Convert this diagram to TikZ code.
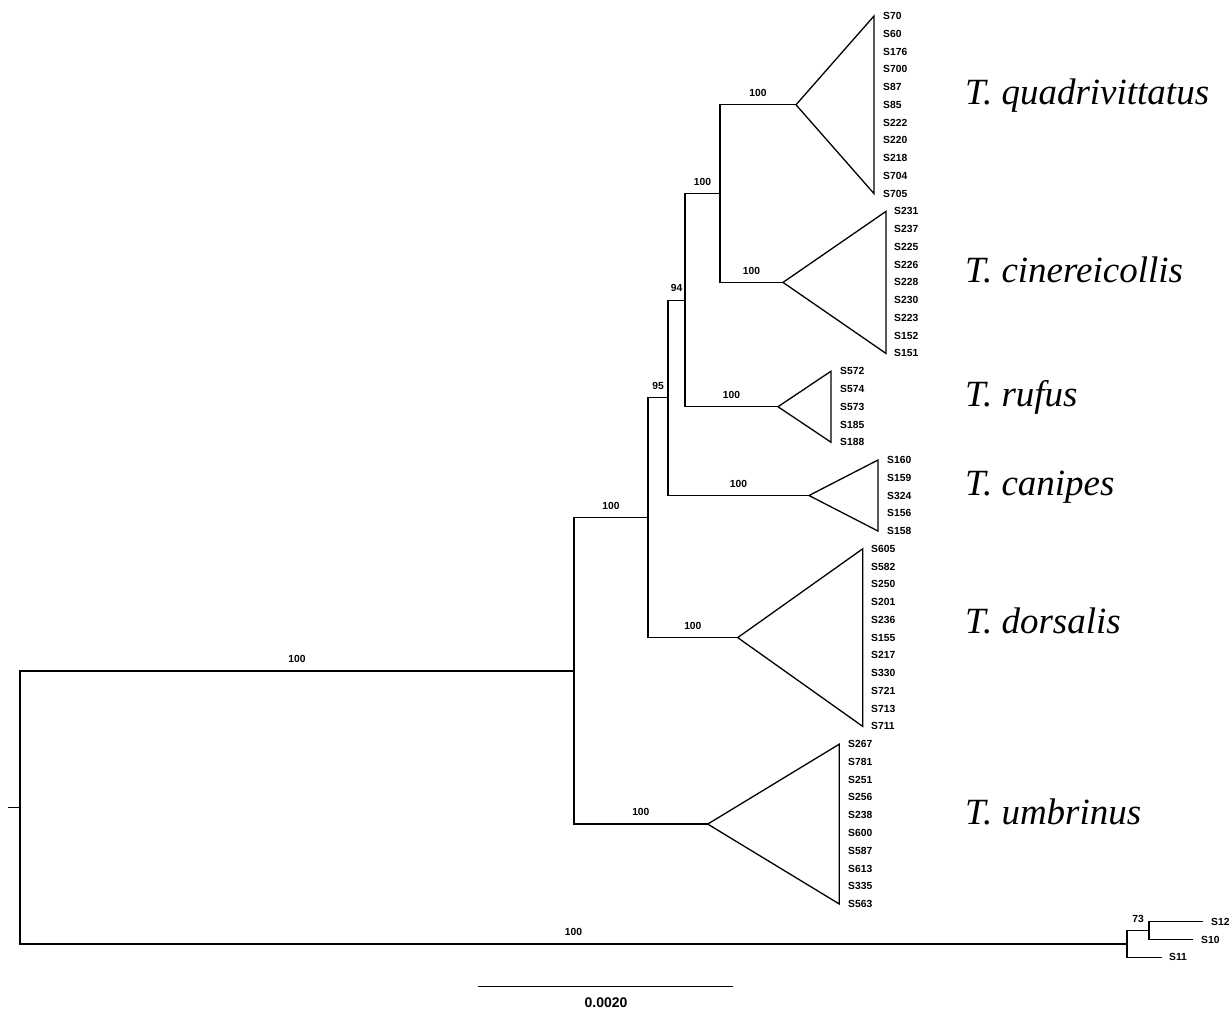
\documentclass[tikz,border=0pt]{standalone}
\usepackage{fontspec}
\setmainfont{Liberation Serif}
\newfontfamily\leaffont{Liberation Sans}
\begin{document}
\begin{tikzpicture}[x=1pt,y=-1pt,
  br/.style={line width=1.3pt, line join=miter},
  leaf/.style={anchor=west, inner sep=0pt, font=\leaffont\bfseries\fontsize{10.3}{12}\selectfont},
  bs/.style={above=8pt, inner sep=0pt, font=\leaffont\bfseries\fontsize{10.3}{12}\selectfont},
  species/.style={anchor=base west, inner sep=0pt, font=\itshape\fontsize{37}{40}\selectfont},
  scalelbl/.style={inner sep=0pt, font=\leaffont\bfseries\fontsize{14}{16}\selectfont}]
\useasboundingbox (0,0) rectangle (1232,1012);

% internal nodes
\coordinate (root) at (20,807.43);
\coordinate (stub) at (8,807.43);
\coordinate (n5) at (574,670.9);
\coordinate (n4) at (648,517.72);
\coordinate (n3) at (668,397.84);
\coordinate (n2) at (685,300.16);
\coordinate (n1) at (720,193.6);
\coordinate (n6) at (1127,943.96);
\coordinate (n7) at (1149,930.64);

% clade apexes and triangle corners
\coordinate (qa) at (796,104.8);   \coordinate (qt) at (874,16);     \coordinate (qb) at (874,193.6);
\coordinate (ca) at (783,282.4);   \coordinate (ct) at (886,211.36); \coordinate (cb) at (886,353.44);
\coordinate (ra) at (778,406.72);  \coordinate (rt) at (831,371.2);  \coordinate (rb) at (831,442.24);
\coordinate (pa) at (809,495.52);  \coordinate (pt) at (878,460);    \coordinate (pb) at (878,531.04);
\coordinate (da) at (737.7,637.6); \coordinate (dt) at (862.7,548.8);\coordinate (db) at (862.7,726.4);
\coordinate (ua) at (707.7,824.08);\coordinate (ut) at (839.3,744.16);\coordinate (ub) at (839.3,904);
\coordinate (t12) at (1203,921.76);
\coordinate (t10) at (1193,939.52);
\coordinate (t11) at (1162,957.28);

% branches
\draw[br] (stub) -- (root);
\draw[br] (n5) -| (root) |- (n6);
\draw[br] (n4) -| (n5) |- (ua);
\draw[br] (n3) -| (n4) |- (da);
\draw[br] (n2) -| (n3) |- (pa);
\draw[br] (n1) -| (n2) |- (ra);
\draw[br] (qa) -| (n1) |- (ca);
\draw[br] (n7) -| (n6) |- (t11);
\draw[br] (t12) -| (n7) |- (t10);

% collapsed clades
\draw[br] (qa) -- (qt) -- (qb) -- cycle;
\draw[br] (ca) -- (ct) -- (cb) -- cycle;
\draw[br] (ra) -- (rt) -- (rb) -- cycle;
\draw[br] (pa) -- (pt) -- (pb) -- cycle;
\draw[br] (da) -- (dt) -- (db) -- cycle;
\draw[br] (ua) -- (ut) -- (ub) -- cycle;

% bootstrap values
\path (root |- n5) -- node[bs] (b1) {100} (n5);
\path (root |- n6) -- node[bs] (b2) {100} (n6);
\path (n5 |- n4) -- node[bs] (b3) {100} (n4);
\path (n5 |- ua) -- node[bs] (b4) {100} (ua);
\path (n4 |- n3) -- node[bs] (b5) {95} (n3);
\path (n4 |- da) -- node[bs] (b6) {100} (da);
\path (n3 |- n2) -- node[bs] (b7) {94} (n2);
\path (n3 |- pa) -- node[bs] (b8) {100} (pa);
\path (n2 |- n1) -- node[bs] (b9) {100} (n1);
\path (n2 |- ra) -- node[bs] (b10) {100} (ra);
\path (n1 |- qa) -- node[bs] (b11) {100} (qa);
\path (n1 |- ca) -- node[bs] (b12) {100} (ca);
\path (n6 |- n7) -- node[bs] (b13) {73} (n7);

% leaf labels
\foreach \s [count=\k from 0] in {S70,S60,S176,S700,S87,S85,S222,S220,S218,S704,S705}
  \node[leaf] (lq\k) at (883,{16+\k*17.76}) {\s};
\foreach \s [count=\k from 11] in {S231,S237,S225,S226,S228,S230,S223,S152,S151}
  \node[leaf] (lc\k) at (894,{16+\k*17.76}) {\s};
\foreach \s [count=\k from 20] in {S572,S574,S573,S185,S188}
  \node[leaf] (lr\k) at (840,{16+\k*17.76}) {\s};
\foreach \s [count=\k from 25] in {S160,S159,S324,S156,S158}
  \node[leaf] (lp\k) at (887,{16+\k*17.76}) {\s};
\foreach \s [count=\k from 30] in {S605,S582,S250,S201,S236,S155,S217,S330,S721,S713,S711}
  \node[leaf] (ld\k) at (871,{16+\k*17.76}) {\s};
\foreach \s [count=\k from 41] in {S267,S781,S251,S256,S238,S600,S587,S613,S335,S563}
  \node[leaf] (lu\k) at (848,{16+\k*17.76}) {\s};
\node[leaf] (l12) at ([xshift=8pt]t12) {S12};
\node[leaf] (l10) at ([xshift=8pt]t10) {S10};
\node[leaf] (l11) at ([xshift=7pt]t11) {S11};

% species names
\node[species] (sq) at (965,104.8) {T. quadrivittatus};
\node[species] (sc) at (965,282.4) {T. cinereicollis};
\node[species] (sr) at (965,406.72) {T. rufus};
\node[species] (sp) at (965,495.52) {T. canipes};
\node[species] (sd) at (965,633) {T. dorsalis};
\node[species] (su) at (965,824.08) {T. umbrinus};

% scale bar
\coordinate (sb1) at (478,986.7);
\coordinate (sb2) at (733,986.7);
\draw[br] (sb1) -- (sb2);
\node[scalelbl] (sbl) at (606,1003) {0.0020};
\end{tikzpicture}
\end{document}
